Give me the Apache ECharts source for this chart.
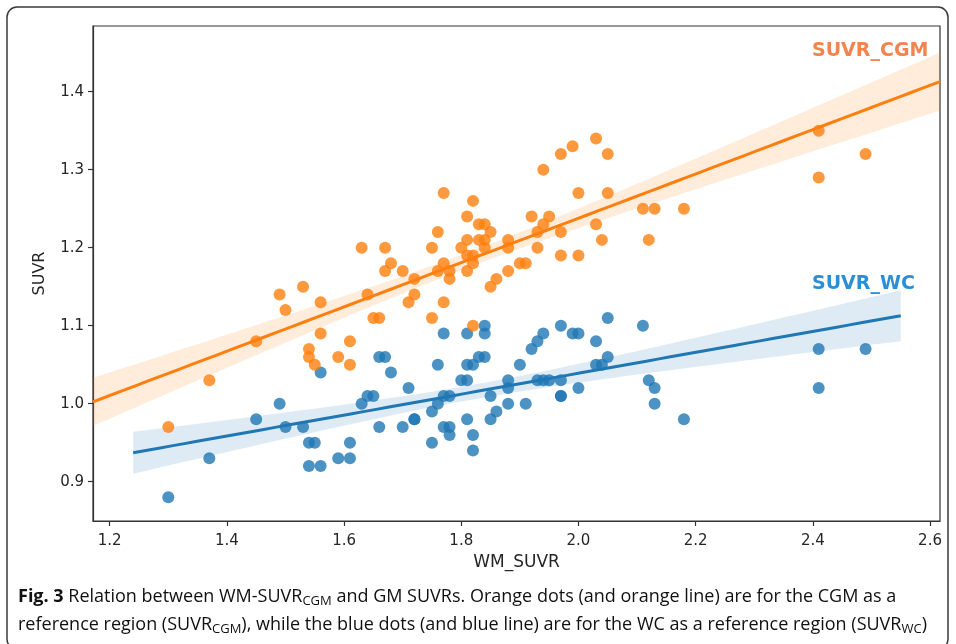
<!DOCTYPE html>
<html><head><meta charset="utf-8">
<script src="https://cdn.jsdelivr.net/npm/echarts@6/dist/echarts.min.js"></script>
<style>html,body{margin:0;padding:0;background:#fff}#c{width:956px;height:644px}</style>
</head><body><div id="c"></div>
<script>
// ---- data ----
const wmCGM = [1.30,1.37,1.45,1.49,1.50,1.53,1.54,1.54,1.55,1.56,1.56,1.59,1.61,1.61,1.63,1.64,1.65,1.66,1.67,1.67,
  1.68,1.70,1.71,1.72,1.72,1.75,1.75,1.76,1.76,1.77,1.77,1.77,1.78,1.78,1.80,1.81,1.81,1.81,1.81,1.82,
  1.82,1.82,1.82,1.83,1.84,1.83,1.84,1.84,1.85,1.85,1.86,1.88,1.88,1.88,1.90,1.91,1.92,1.93,1.93,1.94,
  1.94,1.95,1.97,1.97,1.97,1.99,2.00,2.00,2.03,2.03,2.04,2.05,2.05,2.11,2.12,2.13,2.18,2.41,2.41,2.49];
const suvrCGM = [0.97,1.03,1.08,1.14,1.12,1.15,1.07,1.06,1.05,1.13,1.09,1.06,1.08,1.05,1.20,1.14,1.11,1.11,1.20,1.17,
  1.18,1.17,1.13,1.14,1.16,1.11,1.20,1.22,1.17,1.27,1.18,1.13,1.17,1.16,1.20,1.24,1.21,1.19,1.17,1.26,
  1.19,1.18,1.10,1.23,1.23,1.21,1.21,1.20,1.22,1.15,1.16,1.21,1.20,1.17,1.18,1.18,1.24,1.22,1.20,1.30,
  1.23,1.24,1.32,1.22,1.19,1.33,1.27,1.19,1.34,1.23,1.21,1.32,1.27,1.25,1.21,1.25,1.25,1.35,1.29,1.32];
const wmWC = [1.30,1.37,1.45,1.49,1.50,1.53,1.54,1.55,1.54,1.56,1.56,1.59,1.61,1.61,1.63,1.64,1.65,1.66,1.66,1.67,
  1.68,1.70,1.71,1.72,1.72,1.75,1.75,1.76,1.76,1.77,1.77,1.78,1.77,1.78,1.78,1.80,1.81,1.81,1.81,1.82,
  1.81,1.82,1.82,1.83,1.84,1.84,1.84,1.85,1.85,1.86,1.88,1.88,1.88,1.90,1.91,1.92,1.93,1.94,1.93,1.94,
  1.95,1.97,1.97,1.97,1.97,1.99,2.00,2.00,2.03,2.03,2.04,2.05,2.05,2.11,2.12,2.13,2.13,2.18,2.41,2.49,2.41];
const suvrWC = [0.88,0.93,0.98,1.00,0.97,0.97,0.95,0.95,0.92,0.92,1.04,0.93,0.95,0.93,1.00,1.01,1.01,0.97,1.06,1.06,
  1.04,0.97,1.02,0.98,0.98,0.95,0.99,1.00,1.05,1.09,1.01,1.01,0.97,0.97,0.96,1.03,1.03,1.09,1.05,1.05,
  0.98,0.96,0.94,1.06,1.06,1.10,1.09,1.01,0.98,0.99,1.03,1.02,1.00,1.05,1.00,1.07,1.08,1.09,1.03,1.03,
  1.03,1.10,1.03,1.01,1.01,1.09,1.09,1.02,1.08,1.05,1.05,1.06,1.11,1.10,1.03,1.02,1.00,0.98,1.07,1.07,1.02];
const xTicks = [1.2,1.4,1.6,1.8,2.0,2.2,2.4,2.6];
const yTicks = [0.9,1.0,1.1,1.2,1.3,1.4];
const xMin = 1.1715, xMax = 2.617, yMin = 0.8496, yMax = 1.4842;
const wcFitRange = [1.24, 2.55];
const cgmFitRange = [xMin, xMax];

// ---- least squares fit with 95% confidence band ----
function fit(xs, ys, range) {
  const n = xs.length;
  const mx = xs.reduce((a, b) => a + b, 0) / n, my = ys.reduce((a, b) => a + b, 0) / n;
  let sxx = 0, sxy = 0;
  for (let i = 0; i < n; i++) { sxx += (xs[i] - mx) ** 2; sxy += (xs[i] - mx) * (ys[i] - my); }
  const b = sxy / sxx, a = my - b * mx;
  let sse = 0;
  for (let i = 0; i < n; i++) sse += (ys[i] - a - b * xs[i]) ** 2;
  const s = Math.sqrt(sse / (n - 2)), t = 1.99;
  const line = [], up = [], lo = [];
  const N = 60;
  for (let k = 0; k <= N; k++) {
    const x = range[0] + (range[1] - range[0]) * k / N;
    const yh = a + b * x;
    const se = s * Math.sqrt(1 / n + (x - mx) ** 2 / sxx);
    line.push([x, yh]); up.push([x, yh + t * se]); lo.push([x, yh - t * se]);
  }
  return { line, up, lo };
}
const fWC = fit(wmWC, suvrWC, wcFitRange);
const fCGM = fit(wmCGM, suvrCGM, cgmFitRange);
const pts = (xs, ys) => xs.map((x, i) => [x, ys[i]]);

function bandSeries(f, color) {
  return {
    type: 'custom', silent: true, clip: true, z: 2,
    data: [f.line[0]],
    renderItem: (params, api) => {
      const poly = f.up.map(p => api.coord(p)).concat(f.lo.slice().reverse().map(p => api.coord(p)));
      return { type: 'polygon', shape: { points: poly }, style: { fill: color, opacity: 0.15 } };
    }
  };
}

const chart = echarts.init(document.getElementById('c'), null, { renderer: 'canvas' });
const axisFont = { fontFamily: 'DejaVu Sans', fontSize: 15, color: '#262626' };
const capRich = {
  b: { fontFamily: 'Open Sans', fontWeight: 'bold', fontSize: 18, fill: '#111', lineHeight: 22 },
  s: { fontFamily: 'Open Sans', fontSize: 13, fill: '#111', lineHeight: 8, verticalAlign: 'bottom' }
};
chart.setOption({
  animation: false,
  backgroundColor: '#fff',
  grid: { left: 93, top: 26, right: 16, bottom: 123, show: true, borderColor: '#333', borderWidth: 1.2, backgroundColor: 'transparent' },
  xAxis: {
    type: 'value', min: xMin, max: xMax,
    name: 'WM_SUVR', nameLocation: 'middle', nameGap: 33,
    nameTextStyle: { fontFamily: 'DejaVu Sans', fontSize: 17, color: '#262626' },
    axisLine: { show: true, lineStyle: { color: '#333', width: 1.2 } },
    axisTick: { show: true, length: 5, lineStyle: { color: '#333', width: 1.2 }, customValues: xTicks },
    axisLabel: Object.assign({ margin: 13, customValues: xTicks, formatter: v => v.toFixed(1) }, axisFont),
    splitLine: { show: false }
  },
  yAxis: {
    type: 'value', min: yMin, max: yMax,
    name: 'SUVR', nameLocation: 'middle', nameGap: 45, nameRotate: 90,
    nameTextStyle: { fontFamily: 'DejaVu Sans', fontSize: 16, color: '#262626' },
    axisLine: { show: true, lineStyle: { color: '#333', width: 1.2 } },
    axisTick: { show: true, length: 5, lineStyle: { color: '#333', width: 1.2 }, customValues: yTicks },
    axisLabel: Object.assign({ margin: 9, customValues: yTicks, formatter: v => v.toFixed(1) }, axisFont),
    splitLine: { show: false }
  },
  series: [
    { type: 'scatter', data: pts(wmWC, suvrWC), symbolSize: 12, z: 3, itemStyle: { color: '#1f77b4', opacity: 0.8 } },
    bandSeries(fWC, '#1f77b4'),
    { type: 'scatter', data: pts(wmCGM, suvrCGM), symbolSize: 12, z: 3, itemStyle: { color: '#ff7f0e', opacity: 0.8 } },
    bandSeries(fCGM, '#ff7f0e'),
    { type: 'line', data: fWC.line, showSymbol: false, z: 5, lineStyle: { color: '#1f77b4', width: 3 } },
    { type: 'line', data: fCGM.line, showSymbol: false, z: 5, lineStyle: { color: '#ff7f0e', width: 3 } }
  ],
  graphic: [
    { type: 'rect', shape: { x: 7, y: 7, width: 941, height: 642, r: 10 }, style: { fill: 'none', stroke: '#3a3a3a', lineWidth: 1.5 }, silent: true },
    { type: 'text', left: 812, top: 42, style: { text: 'SUVR_CGM', fontFamily: 'DejaVu Sans', fontWeight: 'bold', fontSize: 19, fill: '#f4834d' } },
    { type: 'text', left: 812, top: 275, style: { text: 'SUVR_WC', fontFamily: 'DejaVu Sans', fontWeight: 'bold', fontSize: 19, fill: '#2b8fd5' } },
    { type: 'text', left: 18, top: 586, style: {
        text: '{b|Fig. 3} Relation between WM-SUVR{s|CGM} and GM SUVRs. Orange dots (and orange line) are for the CGM as a',
        fontFamily: 'Open Sans', fontSize: 18, fill: '#111', lineHeight: 22, rich: capRich } },
    { type: 'text', left: 18, top: 614, style: {
        text: 'reference region (SUVR{s|CGM}), while the blue dots (and blue line) are for the WC as a reference region (SUVR{s|WC})',
        fontFamily: 'Open Sans', fontSize: 18, fill: '#111', lineHeight: 22, rich: capRich } }
  ]
});
</script></body></html>
